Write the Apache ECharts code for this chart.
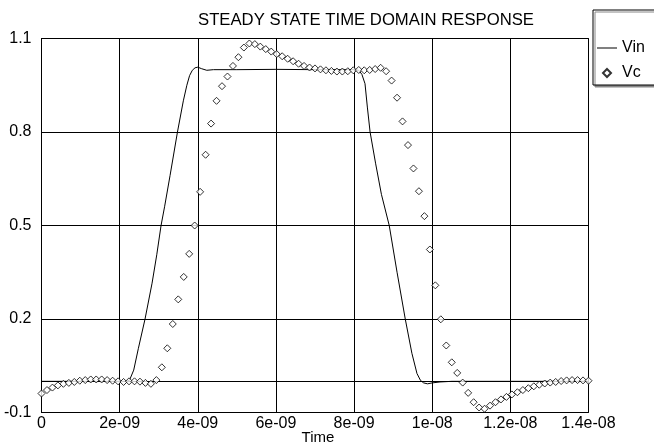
<!DOCTYPE html>
<html>
<head>
<meta charset="utf-8">
<script src="https://cdn.jsdelivr.net/npm/echarts@6/dist/echarts.min.js"></script>
<style>
html,body{margin:0;padding:0;background:#fff;}
#chart{width:654px;height:447px;}
</style>
</head>
<body>
<div id="chart"></div>
<script>
// Time axis in nanoseconds (tick labels show seconds)
const xTickLabels = ['0', '2e-09', '4e-09', '6e-09', '8e-09', '1e-08', '1.2e-08', '1.4e-08'];
const yTickLabels = ['-0.1', '0.2', '0.5', '0.8', '1.1'];

// Vin: solid line (time ns, volts)
const vinTime = [0, 0.5, 1.0, 1.5, 2.0, 2.15, 2.25, 2.36, 2.48, 2.65, 2.83, 2.95, 3.06, 3.15, 3.29, 3.48, 3.63, 3.72, 3.79, 3.86, 3.93, 4.0, 4.1, 4.23, 4.4, 5.0, 6.0, 7.0, 8.0, 8.12, 8.2, 8.28, 8.34, 8.41, 8.55, 8.7, 8.9, 9.1, 9.31, 9.48, 9.61, 9.7, 9.78, 9.88, 10.0, 10.2, 10.5, 11.0, 12.0, 13.0, 14.0];
const vinValue = [0, 0, 0, 0, 0, 0, 0.003, 0.036, 0.106, 0.2, 0.315, 0.406, 0.5, 0.56, 0.66, 0.8, 0.9, 0.95, 0.981, 0.998, 1.006, 1.008, 1.003, 0.998, 1.0, 1.0, 1.001, 1.0, 1.0, 0.998, 0.985, 0.955, 0.88, 0.8, 0.7, 0.6, 0.5, 0.35, 0.2, 0.09, 0.025, 0.003, -0.005, -0.008, -0.005, -0.002, 0, 0, 0, 0, 0];

// Vc: diamond markers (time ns, volts)
const vcTime = [0, 0.14, 0.28, 0.42, 0.56, 0.7, 0.84, 0.98, 1.12, 1.26, 1.4, 1.54, 1.68, 1.82, 1.96, 2.1, 2.24, 2.38, 2.52, 2.66, 2.8, 2.94, 3.08, 3.22, 3.36, 3.5, 3.64, 3.78, 3.92, 4.06, 4.2, 4.34, 4.48, 4.62, 4.76, 4.9, 5.04, 5.18, 5.32, 5.46, 5.6, 5.74, 5.88, 6.02, 6.16, 6.3, 6.44, 6.58, 6.72, 6.86, 7.0, 7.14, 7.28, 7.42, 7.56, 7.7, 7.84, 7.98, 8.12, 8.26, 8.4, 8.54, 8.68, 8.82, 8.96, 9.1, 9.24, 9.38, 9.52, 9.66, 9.8, 9.94, 10.08, 10.22, 10.36, 10.5, 10.64, 10.78, 10.92, 11.06, 11.2, 11.34, 11.48, 11.62, 11.76, 11.9, 12.04, 12.18, 12.32, 12.46, 12.6, 12.74, 12.88, 13.02, 13.16, 13.3, 13.44, 13.58, 13.72, 13.86, 14.0];
const vcValue = [-0.039, -0.028, -0.020, -0.013, -0.008, -0.005, -0.002, 0.002, 0.004, 0.006, 0.006, 0.006, 0.004, 0.002, 0.000, -0.002, 0.000, 0.000, -0.001, -0.005, -0.008, 0.004, 0.045, 0.106, 0.184, 0.263, 0.335, 0.409, 0.500, 0.608, 0.727, 0.827, 0.900, 0.947, 0.978, 1.012, 1.040, 1.071, 1.084, 1.082, 1.074, 1.066, 1.058, 1.050, 1.043, 1.035, 1.027, 1.019, 1.012, 1.007, 1.004, 1.001, 0.998, 0.996, 0.994, 0.994, 0.995, 0.998, 0.999, 0.998, 0.999, 1.002, 1.006, 0.995, 0.965, 0.910, 0.834, 0.758, 0.683, 0.610, 0.530, 0.423, 0.308, 0.199, 0.115, 0.061, 0.027, -0.004, -0.037, -0.067, -0.084, -0.088, -0.078, -0.067, -0.058, -0.050, -0.042, -0.035, -0.028, -0.022, -0.016, -0.011, -0.007, -0.004, -0.002, 0.001, 0.003, 0.004, 0.004, 0.003, 0.002];

const FONT = 'Liberation Sans, Arial, sans-serif';
const chart = echarts.init(document.getElementById('chart'), null, {renderer: 'canvas'});
chart.setOption({
  animation: false,
  backgroundColor: '#fff',
  title: {
    text: 'STEADY STATE TIME DOMAIN RESPONSE',
    left: 193, top: 7,
    textStyle: {fontFamily: FONT, fontSize: 16.7, fontWeight: 'normal', color: '#000'}
  },
  legend: {
    orient: 'vertical',
    left: 593, top: 10,
    padding: [30, 40, 4, 4],
    itemGap: 9,
    itemWidth: 20, itemHeight: 8,
    symbolKeepAspect: true,
    borderColor: '#000', borderWidth: 1,
    shadowColor: '#888', shadowOffsetX: 2, shadowOffsetY: 2, shadowBlur: 0,
    backgroundColor: '#fff',
    textStyle: {fontFamily: FONT, fontSize: 16, color: '#000'},
    data: [
      {name: 'Vin', icon: 'path://M0,0H20V1H0Z'},
      {name: 'Vc', icon: 'path://M4,0L8,4L4,8L0,4Z'}
    ]
  },
  grid: {left: 41.5, right: 65.5, top: 38.5, bottom: 34.5, show: true, borderColor: '#000', borderWidth: 1,
    outerBoundsMode: 'none', containLabel: false},
  xAxis: {
    type: 'value', min: 0, max: 14, interval: 2,
    name: 'Time', nameLocation: 'middle', nameGap: 18, nameMoveOverlap: false,
    nameTextStyle: {fontFamily: FONT, fontSize: 15, color: '#000', padding: [0, 0, 0, 6]},
    axisLine: {lineStyle: {color: '#000', width: 1}},
    axisTick: {show: false},
    axisLabel: {fontFamily: FONT, fontSize: 16, color: '#000', margin: 3,
      formatter: v => xTickLabels[Math.round(v / 2)]},
    splitLine: {show: true, lineStyle: {color: '#000', width: 1}}
  },
  yAxis: {
    type: 'value', min: -0.1, max: 1.1, interval: 0.3,
    axisLine: {show: true, lineStyle: {color: '#000', width: 1}},
    axisTick: {show: false},
    axisLabel: {fontFamily: FONT, fontSize: 16, color: '#000', margin: 10,
      formatter: v => yTickLabels[Math.round((v + 0.1) / 0.3)]},
    splitLine: {show: true, lineStyle: {color: '#000', width: 1}}
  },
  series: [
    {
      name: 'Vin', type: 'line', symbol: 'none',
      lineStyle: {color: '#000', width: 1},
      itemStyle: {color: '#000'},
      data: vinTime.map((t, i) => [t, vinValue[i]]),
      z: 3
    },
    {
      name: 'Vc', type: 'scatter', symbol: 'diamond', symbolSize: 7,
      itemStyle: {color: '#fff', borderColor: '#000', borderWidth: 1},
      data: vcTime.map((t, i) => [t, vcValue[i]]),
      z: 4
    }
  ]
});
</script>
</body>
</html>
